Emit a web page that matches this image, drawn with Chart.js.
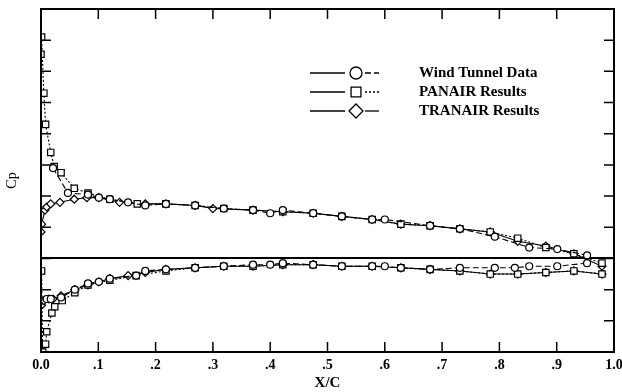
<!DOCTYPE html>
<html>
<head>
<meta charset="utf-8">
<script src="https://cdn.jsdelivr.net/npm/chart.js@4.4.0/dist/chart.umd.min.js"></script>
<style>
    html, body { margin: 0; padding: 0; background: #fff; }
    #wrap { width: 622px; height: 392px; }
</style>
</head>
<body>
<div id="wrap"><canvas id="myChart" width="622" height="392"></canvas></div>
<script>
// x/c tick labels
var xTickLabels = ["0.0", ".1", ".2", ".3", ".4", ".5", ".6", ".7", ".8", ".9", "1.0"]

// wind tunnel data (circles)
var wtUpperX = [0.021, 0.047, 0.082, 0.101, 0.120, 0.152, 0.182, 0.218, 0.269, 0.319, 0.370, 0.400, 0.422, 0.475, 0.525, 0.578, 0.600, 0.679, 0.731, 0.792, 0.852, 0.901, 0.953]
var wtUpperCp = [-0.58, -0.42, -0.41, -0.39, -0.38, -0.36, -0.34, -0.35, -0.34, -0.32, -0.31, -0.29, -0.31, -0.29, -0.27, -0.25, -0.25, -0.21, -0.19, -0.14, -0.07, -0.06, -0.02]
var wtLowerX = [0.010, 0.017, 0.035, 0.059, 0.082, 0.101, 0.120, 0.166, 0.182, 0.218, 0.269, 0.319, 0.370, 0.400, 0.422, 0.475, 0.525, 0.578, 0.600, 0.628, 0.679, 0.731, 0.792, 0.827, 0.852, 0.901, 0.953]
var wtLowerCp = [0.26, 0.26, 0.25, 0.20, 0.16, 0.15, 0.13, 0.11, 0.08, 0.07, 0.06, 0.05, 0.04, 0.04, 0.03, 0.04, 0.05, 0.05, 0.05, 0.06, 0.07, 0.06, 0.06, 0.06, 0.05, 0.05, 0.03]

// PANAIR (squares)
var panUpperX = [0.000, 0.001, 0.005, 0.008, 0.017, 0.023, 0.035, 0.058, 0.082, 0.120, 0.168, 0.218, 0.269, 0.319, 0.370, 0.422, 0.475, 0.525, 0.578, 0.628, 0.679, 0.731, 0.784, 0.832, 0.881, 0.930, 0.979]
var panUpperCp = [-1.31, -1.42, -1.06, -0.86, -0.68, -0.59, -0.55, -0.45, -0.42, -0.38, -0.35, -0.35, -0.34, -0.32, -0.31, -0.30, -0.29, -0.27, -0.25, -0.22, -0.21, -0.19, -0.17, -0.13, -0.07, -0.03, 0.03]
var panLowerX = [0.001, 0.003, 0.008, 0.010, 0.019, 0.024, 0.037, 0.059, 0.082, 0.120, 0.166, 0.218, 0.269, 0.319, 0.370, 0.422, 0.475, 0.525, 0.578, 0.628, 0.679, 0.731, 0.784, 0.832, 0.881, 0.930, 0.979]
var panLowerCp = [0.08, 0.60, 0.55, 0.47, 0.35, 0.31, 0.27, 0.22, 0.17, 0.14, 0.11, 0.08, 0.06, 0.05, 0.05, 0.04, 0.04, 0.05, 0.05, 0.06, 0.07, 0.08, 0.10, 0.10, 0.09, 0.08, 0.10]

// TRANAIR (diamonds)
var traUpperX = [0.000, 0.001, 0.007, 0.010, 0.017, 0.033, 0.058, 0.080, 0.101, 0.137, 0.182, 0.218, 0.269, 0.300, 0.370, 0.422, 0.475, 0.525, 0.578, 0.628, 0.679, 0.731, 0.784, 0.832, 0.881, 0.930, 0.979]
var traUpperCp = [-0.17, -0.22, -0.31, -0.33, -0.35, -0.36, -0.38, -0.39, -0.39, -0.36, -0.35, -0.35, -0.34, -0.32, -0.31, -0.30, -0.29, -0.27, -0.25, -0.22, -0.21, -0.19, -0.17, -0.11, -0.08, -0.03, 0.05]
var traLowerX = [0.001, 0.005, 0.014, 0.021, 0.035, 0.059, 0.082, 0.101, 0.120, 0.152, 0.182, 0.218, 0.269, 0.319, 0.370, 0.422, 0.475, 0.525, 0.578, 0.628, 0.679, 0.731, 0.784, 0.832, 0.881, 0.930, 0.979]
var traLowerCp = [0.30, 0.27, 0.26, 0.26, 0.24, 0.20, 0.17, 0.15, 0.13, 0.11, 0.09, 0.07, 0.06, 0.05, 0.05, 0.04, 0.04, 0.05, 0.05, 0.06, 0.07, 0.08, 0.10, 0.10, 0.09, 0.08, 0.10]


function toPoints(xs, ys) {
    return xs.map(function (x, i) { return { x: x, y: ys[i] } })
}

function series(label, xs, ys, style, radius, dash) {
    return {
        label: label,
        data: toPoints(xs, ys),
        showLine: true,
        borderColor: "#000",
        borderWidth: 1.1,
        borderDash: dash,
        backgroundColor: "#fff",
        pointStyle: style,
        pointRadius: radius,
        pointBorderWidth: 1.2,
        pointBorderColor: "#000",
        pointBackgroundColor: "#fff",
        tension: 0
    }
}

// inward tick marks on all four sides plus the frame
var frame = {
    id: "frame",
    afterDatasetsDraw: function (chart) {
        var ctx = chart.ctx
        var a = chart.chartArea
        var xs = chart.scales.x
        var ys = chart.scales.y
        ctx.save()
        ctx.strokeStyle = "#000"
        ctx.lineWidth = 1.5
        ctx.beginPath()
        xs.ticks.forEach(function (t) {
            var px = xs.getPixelForValue(t.value)
            ctx.moveTo(px, a.bottom); ctx.lineTo(px, a.bottom - 10)
            ctx.moveTo(px, a.top); ctx.lineTo(px, a.top + 10)
        })
        ys.ticks.forEach(function (t) {
            var py = ys.getPixelForValue(t.value)
            ctx.moveTo(a.left, py); ctx.lineTo(a.left + 10, py)
            ctx.moveTo(a.right, py); ctx.lineTo(a.right - 10, py)
        })
        ctx.stroke()
        ctx.lineWidth = 2
        ctx.strokeRect(a.left, a.top, a.right - a.left, a.bottom - a.top)
        ctx.restore()
    }
}

// legend: line - marker - line, then bold text
var keyBox = {
    id: "keyBox",
    afterDraw: function (chart) {
        var ctx = chart.ctx
        var seen = {}
        var row = 0
        ctx.save()
        chart.data.datasets.forEach(function (ds) {
            if (seen[ds.label]) return
            seen[ds.label] = true
            var y = 73 + row * 19
            ctx.strokeStyle = "#000"
            ctx.lineWidth = 1.3
            ctx.setLineDash([])
            ctx.beginPath(); ctx.moveTo(310, y); ctx.lineTo(345, y); ctx.stroke()
            ctx.setLineDash(ds.borderDash || [])
            ctx.beginPath(); ctx.moveTo(365, y); ctx.lineTo(379, y); ctx.stroke()
            ctx.setLineDash([])
            ctx.fillStyle = "#fff"
            Chart.helpers.drawPoint(ctx, {
                pointStyle: ds.pointStyle,
                radius: ds.pointStyle === "circle" ? 6 : 7,
                borderWidth: 1.5,
                rotation: 0
            }, 356, y)
            ctx.fillStyle = "#000"
            ctx.font = "bold 15px 'Liberation Serif'"
            ctx.textBaseline = "middle"
            ctx.fillText(ds.label, 419, y)
            row++
        })
        ctx.restore()
    }
}

function setup() {
    var datasets = [
        series("Wind Tunnel Data", wtUpperX, wtUpperCp, "circle", 3.5, [6, 3]),
        series("Wind Tunnel Data", wtLowerX, wtLowerCp, "circle", 3.5, [6, 3]),
        series("PANAIR Results", panUpperX, panUpperCp, "rect", 4.5, [2, 2]),
        series("PANAIR Results", panLowerX, panLowerCp, "rect", 4.5, [2, 2]),
        series("TRANAIR Results", traUpperX, traUpperCp, "rectRot", 4, []),
        series("TRANAIR Results", traLowerX, traLowerCp, "rectRot", 4, [])
    ]

    new Chart("myChart", {
        type: "scatter",
        data: { datasets: datasets },
        options: {
            responsive: false,
            animation: false,
            layout: { padding: { top: 9, right: 8, left: 0, bottom: 0 } },
            plugins: {
                legend: { display: false },
                tooltip: { enabled: false }
            },
            scales: {
                x: {
                    type: "linear",
                    min: 0,
                    max: 1,
                    afterFit: function (s) {
                        s.height = 40
                        s.paddingLeft = 0
                        s.paddingRight = 0
                    },
                    grid: { display: false, drawTicks: false },
                    border: { display: false },
                    ticks: {
                        stepSize: 0.1,
                        autoSkip: false,
                        maxRotation: 0,
                        padding: 5,
                        color: "#000",
                        font: { family: "'Liberation Serif'", size: 14, weight: "bold" },
                        callback: function (v, i) { return xTickLabels[i] }
                    },
                    title: {
                        display: true,
                        text: "X/C",
                        color: "#000",
                        padding: { top: 0, bottom: 0 },
                        font: { family: "'Liberation Serif'", size: 15, weight: "bold" }
                    }
                },
                y: {
                    type: "linear",
                    reverse: true,
                    min: -1.6,
                    max: 0.6,
                    afterFit: function (s) { s.width = 41 },
                    border: { display: false },
                    grid: {
                        drawTicks: false,
                        lineWidth: 2,
                        color: function (c) {
                            return c.tick && Math.abs(c.tick.value) < 1e-9 ? "#000" : "rgba(0,0,0,0)"
                        }
                    },
                    ticks: { stepSize: 0.2, display: false },
                    title: {
                        display: true,
                        text: "Cp",
                        color: "#000",
                        padding: { top: 4, bottom: 0 },
                        font: { family: "'Liberation Serif'", size: 14 }
                    }
                }
            }
        },
        plugins: [frame, keyBox]
    })
}

setup()
</script>
</body>
</html>
